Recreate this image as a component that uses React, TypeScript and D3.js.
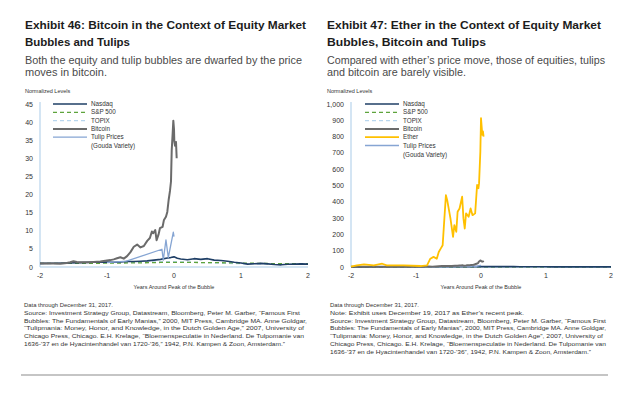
import React from "react";
import * as d3 from "d3";

// ---- data (years around the peak, normalized level) ----
const btcYears = [-2, -1.9, -1.8, -1.7, -1.6, -1.55, -1.5, -1.45, -1.4, -1.3, -1.2, -1.1, -1.0, -0.95, -0.9, -0.85, -0.8, -0.75, -0.7, -0.65, -0.6, -0.55, -0.5, -0.45, -0.4, -0.36, -0.33, -0.31, -0.28, -0.26, -0.23, -0.21, -0.17, -0.15, -0.12, -0.1, -0.08, -0.06, -0.045, -0.034, -0.02, -0.01, 0, 0.005, 0.015, 0.03, 0.04];
const btcLevels = [1.0, 0.95, 1.0, 0.9, 1.1, 1.3, 1.6, 1.4, 1.3, 1.3, 1.4, 1.5, 1.8, 1.9, 2.1, 2.4, 2.7, 2.3, 3.0, 4.1, 5.6, 6.2, 5.4, 5.8, 7.2, 8.0, 9.8, 9.3, 10.2, 7.4, 9.0, 10.7, 11.1, 13.0, 13.9, 15.2, 18.5, 21.0, 23.6, 32.3, 36.9, 40.4, 38.0, 34.6, 33.5, 34.5, 30.0];

const nasdaqYears = [-2, -1.8, -1.6, -1.4, -1.2, -1.0, -0.9, -0.8, -0.7, -0.6, -0.5, -0.4, -0.3, -0.2, -0.1, -0.05, 0, 0.05, 0.1, 0.2, 0.3, 0.4, 0.5, 0.6, 0.7, 0.8, 0.9, 1.0, 1.1, 1.2, 1.3, 1.4, 1.5, 1.6, 1.7, 1.8, 1.9, 2.0];
const nasdaqLevels = [1.0, 1.05, 1.1, 1.2, 1.3, 1.35, 1.3, 1.4, 1.5, 1.5, 1.6, 1.7, 1.9, 2.1, 2.5, 2.6, 2.8, 2.4, 2.2, 2.0, 2.3, 2.1, 2.3, 1.9, 1.8, 1.6, 1.3, 1.1, 0.8, 0.9, 1.0, 0.85, 0.7, 0.6, 0.75, 0.8, 0.85, 0.8];

const spxYears = [-2, -1.5, -1, -0.5, -0.2, 0, 0.3, 0.6, 1, 1.3, 1.6, 2];
const spxLevels = [1.0, 1.0, 1.05, 1.15, 1.25, 1.3, 1.25, 1.2, 1.1, 1.0, 0.9, 0.95];

const topixYears = [-2, -1.5, -1, -0.5, -0.2, 0, 0.3, 0.6, 1, 1.3, 1.6, 2];
const topixLevels = [0.9, 1.0, 1.2, 1.3, 1.45, 1.5, 1.3, 1.1, 0.9, 0.8, 0.8, 0.75];

const tulipYears = [-1.0, -0.71, -0.18, -0.16, -0.12, -0.085, -0.01, 0.0];
const tulipLevels = [1.2, 1.6, 4.9, 1.9, 7.5, 2.6, 9.6, 8.4];

const etherYears = [-2, -1.91, -1.8, -1.65, -1.52, -1.45, -1.19, -0.93, -0.83, -0.78, -0.73, -0.68, -0.65, -0.62, -0.59, -0.57, -0.54, -0.52, -0.47, -0.43, -0.41, -0.38, -0.36, -0.33, -0.29, -0.27, -0.25, -0.23, -0.19, -0.16, -0.13, -0.09, -0.06, -0.04, -0.03, -0.01, 0.0, 0.02, 0.03, 0.04];
const etherLevels = [2, 10, 16, 10, 20, 10, 10, 6, 10, 51, 62, 51, 92, 113, 133, 257, 441, 410, 298, 185, 257, 216, 339, 359, 431, 298, 236, 329, 308, 359, 318, 329, 503, 483, 513, 708, 913, 811, 832, 800];

const xTicks = [-2, -1, 0, 1, 2];

const leftTitle = ["Exhibit 46: Bitcoin in the Context of Equity Market", "Bubbles and Tulips"];
const leftSub = ["Both the equity and tulip bubbles are dwarfed by the price", "moves in bitcoin."];
const rightTitle = ["Exhibit 47: Ether in the Context of Equity Market", "Bubbles, Bitcoin and Tulips"];
const rightSub = ["Compared with ether\u2019s price move, those of equities, tulips", "and bitcoin are barely visible."];

const leftNotes = [
  "Data through December 31, 2017.",
  "Source: Investment Strategy Group, Datastream, Bloomberg, Peter M. Garber, \u201cFamous First",
  "Bubbles: The Fundamentals of Early Manias,\u201d 2000, MIT Press, Cambridge MA.  Anne Goldgar,",
  "\u201cTulipmania: Money, Honor, and Knowledge, in the Dutch Golden Age,\u201d 2007, University of",
  "Chicago Press, Chicago. E.H. Krelage, \u201cBloemenspeculatie in Nederland. De Tulpomanie van",
  "1636-\u201937 en de Hyacintenhandel van 1720-\u201936,\u201d 1942, P.N. Kampen & Zoon, Amsterdam.\u201d",
];
const rightNotes = [
  "Data through December 31, 2017.",
  "Note: Exhibit uses December 19, 2017 as Ether\u2019s recent peak.",
  "Source: Investment Strategy Group, Datastream, Bloomberg, Peter M. Garber, \u201cFamous First",
  "Bubbles: The Fundamentals of Early Manias\u201d, 2000, MIT Press, Cambridge MA.  Anne Goldgar,",
  "\u201cTulipmania: Money, Honor, and Knowledge, in the Dutch Golden Age\u201d,  2007, University of",
  "Chicago Press, Chicago.  E.H. Krelage,  \u201cBloemenspeculatie in Nederland. De Tulpomanie van",
  "1636-\u201937 en de Hyacintenhandel van 1720-\u201936\u201d, 1942, P.N. Kampen & Zoon, Amsterdam.\u201d",
];

// series styles
const STY: Record<string, { color: string; width: number; dash?: string }> = {
  Nasdaq: { color: "#1f3f66", width: 1.6 },
  "S&P 500": { color: "#5ea43c", width: 1.3, dash: "4,3" },
  TOPIX: { color: "#b8d6ee", width: 1.3, dash: "4,3" },
  Bitcoin: { color: "#6b6b6b", width: 2 },
  Ether: { color: "#ffc000", width: 1.8 },
  Tulip: { color: "#86a5d3", width: 1.3 },
};

const NARROW = "'Liberation Sans Narrow', 'Arial Narrow', 'Liberation Sans', sans-serif";
const SANS = "'Liberation Sans', Arial, sans-serif";

function Panel({ left, x0, x1, yMax, yStep, fmt, withEther, title, sub, notes, titleW, subW, noteX, noteW }: any) {
  const x = d3.scaleLinear().domain([-2, 2]).range([x0, x1]);
  const y = d3.scaleLinear().domain([0, yMax]).range([267, 104]);
  const line = d3.line<[number, number]>().x(d => x(d[0])).y(d => y(d[1]));
  const series: [string, number[], number[]][] = [
    ["TOPIX", topixYears, topixLevels],
    ["S&P 500", spxYears, spxLevels],
    ["Nasdaq", nasdaqYears, nasdaqLevels],
    ["Tulip", tulipYears, tulipLevels],
    ["Bitcoin", btcYears, btcLevels],
  ];
  if (withEther) series.push(["Ether", etherYears, etherLevels]);
  const legend = ["Nasdaq", "S&P 500", "TOPIX", "Bitcoin"].concat(withEther ? ["Ether", "Tulip"] : ["Tulip"]);
  const lx = withEther ? x0 + 14 : x0 + 13;
  const yTicks = d3.range(0, yMax + 1, yStep);
  const tx = left - 1;

  return (
    <g>
      {title.map((t: string, i: number) => (
        <text key={"t" + i} x={tx} y={29 + i * 17} fontFamily={SANS} fontWeight="bold" fontSize={11.5} fill="#1c1c1c"
          textLength={titleW[i]} lengthAdjust="spacingAndGlyphs">{t}</text>
      ))}
      {sub.map((t: string, i: number) => (
        <text key={"s" + i} x={tx} y={64 + i * 12} fontFamily={NARROW} fontSize={11.5} fill="#4a4a4a"
          textLength={subW[i]} lengthAdjust="spacingAndGlyphs">{t}</text>
      ))}
      <text x={tx} y={93} fontFamily={NARROW} fontSize={5.5} fill="#333">Normalized Levels</text>

      {/* axes */}
      <line x1={x0} x2={x0} y1={102} y2={267} stroke="#a9cbe8" strokeWidth={1} />
      <line x1={x0} x2={x1} y1={267} y2={267} stroke="#a9cbe8" strokeWidth={1.2} />
      {yTicks.map(v => (
        <text key={v} x={x0 - 7} y={y(v) + 2.5} textAnchor="end" fontFamily={NARROW} fontSize={7} fill="#333">{fmt(v)}</text>
      ))}
      {xTicks.map(v => (
        <text key={v} x={x(v)} y={278} textAnchor="middle" fontFamily={NARROW} fontSize={7} fill="#333">{v}</text>
      ))}
      <text x={(x0 + x1) / 2} y={289} textAnchor="middle" fontFamily={NARROW} fontSize={5.5} fill="#333">Years Around Peak of the Bubble</text>

      {/* lines */}
      {series.map(([k, xs, vs]) => (
        <path key={k} d={line(d3.zip(xs, vs) as [number, number][]) || ""} fill="none" stroke={STY[k].color}
          strokeWidth={STY[k].width} strokeDasharray={STY[k].dash} strokeLinejoin="round" />
      ))}

      {/* legend */}
      {legend.map((k, i) => {
        const ly = 104 + i * 8.3;
        return (
          <g key={k}>
            <line x1={lx} x2={lx + 34} y1={ly} y2={ly} stroke={STY[k].color} strokeWidth={STY[k].width} strokeDasharray={STY[k].dash} />
            <text x={lx + 38} y={ly + 2} fontFamily={NARROW} fontSize={6.3} fill="#333">{k === "Tulip" ? "Tulip Prices" : k}</text>
            {k === "Tulip" && <text x={lx + 38} y={ly + 11} fontFamily={NARROW} fontSize={6.3} fill="#333">(Gouda Variety)</text>}
          </g>
        );
      })}

      {/* footnotes */}
      {notes.map((t: string, i: number) => (
        <text key={"n" + i} x={noteX} y={307 + i * 7.8} fontFamily={NARROW} fontSize={5.6} fill="#333"
          textLength={noteW[i]} lengthAdjust="spacingAndGlyphs">{t}</text>
      ))}
    </g>
  );
}

export default function App() {
  return (
    <svg width={640} height={397} style={{ position: "absolute", left: 0, top: 0, background: "#fff" }}>
      <rect width={640} height={397} fill="#fff" />
      <Panel left={26} x0={40} x1={308} yMax={45} yStep={5} fmt={d3.format("d")} withEther={false}
        title={leftTitle} sub={leftSub} notes={leftNotes} titleW={[281, 105]} subW={[277, 82]}
        noteX={24} noteW={[89, 276, 283, 280, 280, 261]} />
      <Panel left={328} x0={351} x1={611} yMax={1000} yStep={100} fmt={d3.format(",")} withEther={true}
        title={rightTitle} sub={rightSub} notes={rightNotes} titleW={[274, 159]} subW={[278, 139]}
        noteX={330} noteW={[89, 194, 276, 276, 273, 276, 261]} />
      <line x1={21} x2={608} y1={375} y2={375} stroke="#8c8c8c" strokeWidth={1.2} />
    </svg>
  );
}
